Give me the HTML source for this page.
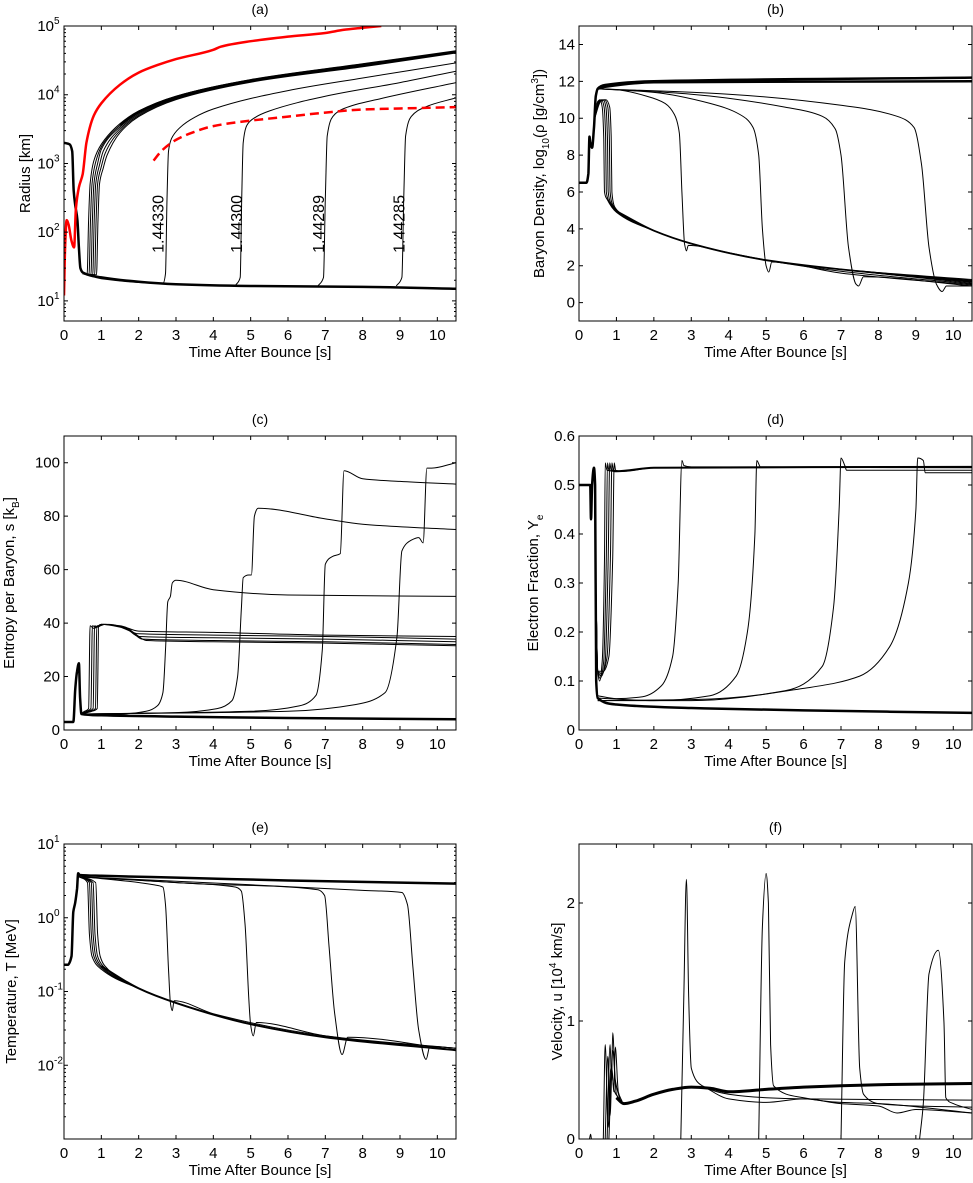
<!DOCTYPE html>
<html><head><meta charset="utf-8">
<style>
html,body{margin:0;padding:0;background:#fff;}
svg{display:block;font-family:"Liberation Sans",Arial,sans-serif;}
</style></head>
<body>
<svg id="fig" width="973" height="1183" viewBox="0 0 973 1183" xmlns="http://www.w3.org/2000/svg"></svg>
<script>
// ---------- DATA (time [s], value) ----------
const tickX = [0,1,2,3,4,5,6,7,8,9,10];
const trajLabels = ["1.44330","1.44300","1.44289","1.44285"];
const labelTimes = [2.75,4.85,7.05,9.2];

// (a) Radius [km]
const aBound = [[0,2000],[0.15,1900],[0.22,1500],[0.26,400],[0.3,250],[0.36,150],[0.4,60],[0.44,30],[0.5,26],[1,22],[2,19],[3,17.5],[5,16.5],[8,16],[10.5,15]];
const aRed = [[0,12],[0.03,60],[0.07,150],[0.12,130],[0.2,75],[0.27,60],[0.32,220],[0.4,450],[0.5,700],[0.6,2000],[0.8,5000],[1,7500],[1.5,14000],[2,21000],[2.5,27000],[3,33000],[4,45000],[4.2,50000],[5,60000],[6,70000],[7,79000],[7.5,88000],[8,94000],[8.5,100000]];
const aRedDash = [[2.4,1100],[2.6,1500],[3,2200],[3.5,2900],[4,3500],[5,4200],[6,4800],[7,5500],[8,6100],[9,6300],[10.5,6600]];
const aC1 = [[0.5,25],[0.62,24],[0.66,150],[0.7,500],[0.8,1100],[1,1900],[1.5,3800],[2,5800],[3,9500],[5,16500],[8,28000],[10.5,43000]];
const aC2 = [[0.5,25],[0.67,24],[0.71,150],[0.75,500],[0.85,1050],[1,1750],[1.5,3600],[2,5600],[3,9300],[5,16200],[8,27500],[10.5,42500]];
const aC3 = [[0.5,25],[0.72,24],[0.76,150],[0.8,500],[0.9,1000],[1,1600],[1.5,3400],[2,5400],[3,9100],[5,16000],[8,27000],[10.5,42000]];
const aC4 = [[0.5,25],[0.77,24],[0.81,150],[0.85,500],[0.95,950],[1.05,1500],[1.5,3200],[2,5200],[3,8900],[5,15800],[8,26500],[10.5,41500]];
const aC5 = [[0.5,25],[0.82,24],[0.86,150],[0.9,500],[1.0,900],[1.1,1400],[1.5,3000],[2,5000],[3,8700],[5,15500],[8,26000],[10.5,41000]];
const aC6 = [[0.5,25],[0.87,24],[0.91,150],[0.95,500],[1.05,850],[1.15,1300],[1.5,2800],[2,4800],[3,8500],[5,15200],[8,25500],[10.5,40500]];
const aL1 = [[0.5,25],[1,21],[2.65,18],[2.72,25],[2.76,300],[2.8,1500],[2.88,2300],[3.1,3300],[3.5,4700],[4,6200],[6,11500],[8,17500],[10.5,29000]];
const aL2 = [[4.6,17],[4.72,22],[4.76,300],[4.8,2000],[4.9,3600],[5.1,4600],[5.5,5800],[7,9500],[9,15000],[10.5,22000]];
const aL3 = [[6.8,16.5],[6.95,22],[7.0,300],[7.05,2500],[7.2,4800],[7.5,6300],[8.5,8800],[10.5,15000]];
const aL4 = [[8.9,16.5],[9.05,22],[9.1,300],[9.15,2500],[9.3,4800],[9.7,6700],[10.5,9000]];

// (b) log10 density
const bBound = [[0,6.5],[0.2,6.5],[0.25,7],[0.28,9],[0.3,8.7],[0.35,8.4],[0.4,9.5],[0.45,11.2],[0.5,11.6],[0.7,11.8],[2,12],[10.5,12.2]];
const bBound2 = [[0.5,11.6],[0.7,11.7],[2,11.95],[10.5,12.0]];
const bC1 = [[0.42,10],[0.5,10.9],[0.56,11],[0.62,10.6],[0.66,9],[0.68,6],[0.75,5.6],[1,4.9],[2,3.9],[3,3.2],[5,2.3],[7,1.8],[10.5,1.25]];
const bC2 = [[0.42,10],[0.52,10.9],[0.6,11],[0.67,10.6],[0.71,9],[0.73,6],[0.8,5.5],[1,4.95],[2,3.9],[3,3.2],[5,2.3],[7,1.8],[10.5,1.2]];
const bC3 = [[0.42,10],[0.54,10.9],[0.64,11],[0.72,10.6],[0.76,9],[0.78,6],[0.85,5.4],[1.05,4.9],[2,3.9],[3,3.2],[5,2.3],[7,1.8],[10.5,1.15]];
const bC4 = [[0.42,10],[0.56,10.9],[0.68,11],[0.77,10.6],[0.81,9],[0.83,6],[0.9,5.3],[1.1,4.85],[2,3.9],[3,3.2],[5,2.3],[7,1.8],[10.5,1.1]];
const bC5 = [[0.42,10],[0.58,10.9],[0.72,11],[0.82,10.6],[0.86,9],[0.88,6],[0.95,5.2],[1.15,4.8],[2,3.9],[3,3.2],[5,2.3],[7,1.8],[10.5,1.05]];
const bL1 = [[0.5,11.6],[1,11.55],[1.8,11.2],[2.3,10.8],[2.55,10.2],[2.68,9.2],[2.75,6],[2.82,3.2],[2.87,2.8],[2.92,3.1],[4,2.7],[5,2.3],[7,1.7],[10.5,1.0]];
const bL2 = [[0.5,11.6],[2,11.4],[3.5,10.8],[4.3,10.2],[4.65,9.5],[4.8,8],[4.9,4],[5.0,2.0],[5.07,1.65],[5.15,2.2],[7,1.6],[10.5,0.95]];
const bL3 = [[0.5,11.6],[3,11.3],[5.5,10.6],[6.5,10.1],[6.85,9.4],[7.0,8],[7.2,3],[7.4,1.0],[7.47,0.9],[7.6,1.4],[10.5,0.9]];
const bL4 = [[0.5,11.6],[4,11.3],[7,10.7],[8.5,10.1],[8.95,9.5],[9.15,7.5],[9.35,3],[9.55,1.0],[9.7,0.6],[9.82,0.9],[10.5,0.9]];

// (c) entropy
const cBound = [[0,3],[0.25,3],[0.3,15],[0.35,22],[0.4,25],[0.43,12],[0.47,6],[1,5.5],[3,5],[6,4.5],[10.5,4]];
const cC1 = [[0.45,6],[0.55,7],[0.66,8],[0.7,39],[0.8,38],[1,39.5],[1.5,39],[2,37],[4,36.5],[7,35.5],[10.5,35]];
const cC2 = [[0.45,6],[0.6,7],[0.72,8],[0.76,39],[0.85,38.5],[1,39.5],[1.5,38.5],[2,36],[4,35.5],[7,35],[10.5,34]];
const cC3 = [[0.45,6],[0.65,7],[0.78,8],[0.82,39],[0.9,38.5],[1.05,39.5],[1.6,38.5],[2,35],[4,34.5],[7,34],[10.5,33]];
const cC4 = [[0.45,6],[0.7,7],[0.84,8],[0.88,39],[0.95,39],[1.1,39.5],[1.7,38],[2.1,34],[4,33.5],[7,33],[10.5,32]];
const cC5 = [[0.45,6],[0.75,7],[0.89,8],[0.93,39],[1.0,39.5],[1.2,39.5],[1.8,37],[2.2,33.5],[4,33],[7,32.5],[10.5,31.5]];
const cL1 = [[0.5,6],[1.5,6],[2.2,7],[2.5,9],[2.65,14],[2.72,30],[2.78,48],[2.85,50],[2.9,55],[3,56],[4,52.5],[6,50.5],[10.5,50]];
const cL2 = [[0.5,6],[3,6.5],[4.1,8],[4.5,11],[4.65,20],[4.75,45],[4.8,57],[4.95,58],[5.02,58],[5.1,80],[5.2,83],[7,79],[8,77],[10.5,75]];
const cL3 = [[0.5,6],[5,7],[6.3,9],[6.75,13],[6.92,30],[7.0,62],[7.2,65],[7.4,66],[7.5,97],[8,94],[9,93],[10.5,92]];
const cL4 = [[0.5,6],[6,7],[7.8,9.5],[8.6,14],[8.92,35],[9.05,67],[9.3,71],[9.5,72],[9.62,70],[9.72,98],[9.85,98],[10.5,100]];

// (d) electron fraction
const dBound = [[0,0.5],[0.3,0.5],[0.32,0.43],[0.35,0.5],[0.4,0.535],[0.43,0.5],[0.46,0.1],[0.5,0.065],[1,0.052],[3,0.045],[6,0.04],[10.5,0.035]];
const dC1 = [[0.45,0.3],[0.5,0.12],[0.55,0.1],[0.62,0.14],[0.68,0.35],[0.7,0.545],[0.75,0.53],[1,0.528],[2,0.535],[10.5,0.537]];
const dC2 = [[0.45,0.3],[0.5,0.12],[0.57,0.105],[0.66,0.14],[0.73,0.35],[0.76,0.545],[0.8,0.53],[1,0.528],[2,0.535],[10.5,0.537]];
const dC3 = [[0.45,0.3],[0.5,0.12],[0.6,0.11],[0.7,0.14],[0.78,0.35],[0.82,0.545],[0.86,0.53],[1,0.528],[2,0.535],[10.5,0.537]];
const dC4 = [[0.45,0.3],[0.5,0.12],[0.62,0.115],[0.75,0.15],[0.84,0.35],[0.88,0.545],[0.92,0.53],[1.1,0.528],[2,0.535],[10.5,0.537]];
const dC5 = [[0.45,0.3],[0.5,0.12],[0.65,0.12],[0.8,0.15],[0.9,0.35],[0.94,0.545],[0.98,0.53],[1.2,0.528],[2,0.535],[10.5,0.537]];
const dL1 = [[0.5,0.07],[1,0.064],[1.7,0.068],[2.2,0.09],[2.5,0.15],[2.65,0.3],[2.75,0.55],[2.8,0.54],[3,0.537],[10.5,0.537]];
const dL2 = [[0.5,0.065],[2,0.06],[3.5,0.07],[4.2,0.11],[4.5,0.2],[4.7,0.4],[4.75,0.55],[4.85,0.537],[10.5,0.535]];
const dL3 = [[0.5,0.06],[3,0.062],[5.5,0.08],[6.5,0.13],[6.8,0.25],[6.95,0.45],[7.0,0.555],[7.1,0.54],[7.15,0.53],[10.5,0.53]];
const dL4 = [[0.5,0.06],[3,0.06],[6,0.085],[7.5,0.11],[8.3,0.17],[8.8,0.3],[9.0,0.45],[9.05,0.555],[9.2,0.55],[9.25,0.525],[10.5,0.525]];

// (e) temperature [MeV]
const eBound = [[0,0.23],[0.1,0.23],[0.2,0.3],[0.25,1.2],[0.3,1.6],[0.35,2.5],[0.38,4.0],[0.42,3.8],[1,3.7],[3,3.5],[6,3.2],[10.5,2.9]];
const eC1 = [[0.4,3.6],[0.63,3.0],[0.68,0.6],[0.75,0.3],[1,0.2],[2,0.11],[3,0.07],[5,0.036],[7,0.024],[10.5,0.016]];
const eC2 = [[0.4,3.6],[0.68,3.0],[0.73,0.6],[0.8,0.3],[1,0.21],[2,0.11],[3,0.07],[5,0.036],[7,0.024],[10.5,0.016]];
const eC3 = [[0.4,3.6],[0.73,3.0],[0.78,0.6],[0.85,0.3],[1,0.22],[2,0.11],[3,0.07],[5,0.036],[7,0.024],[10.5,0.016]];
const eC4 = [[0.4,3.6],[0.78,3.0],[0.83,0.6],[0.9,0.3],[1.05,0.22],[2,0.11],[3,0.07],[5,0.036],[7,0.024],[10.5,0.016]];
const eC5 = [[0.4,3.6],[0.85,3.0],[0.9,0.6],[0.97,0.3],[1.1,0.22],[2,0.11],[3,0.07],[5,0.036],[7,0.024],[10.5,0.017]];
const eL1 = [[0.4,3.6],[1,3.4],[2.4,2.8],[2.65,2.6],[2.72,1.5],[2.8,0.2],[2.85,0.07],[2.9,0.055],[2.95,0.075],[4,0.05],[7,0.025],[10.5,0.017]];
const eL2 = [[0.4,3.6],[3,3.0],[4.6,2.6],[4.75,2.3],[4.85,0.8],[4.95,0.08],[5.0,0.035],[5.07,0.025],[5.15,0.038],[7,0.025],[10.5,0.016]];
const eL3 = [[0.4,3.6],[3.5,2.9],[6.8,2.4],[6.98,2.0],[7.1,0.4],[7.25,0.05],[7.45,0.014],[7.6,0.024],[10.5,0.016]];
const eL4 = [[0.4,3.6],[5,2.8],[8,2.35],[9.05,2.2],[9.2,1.5],[9.35,0.2],[9.5,0.03],[9.7,0.012],[9.8,0.018],[10.5,0.017]];

// (f) velocity [1e4 km/s]
const fBound = [[1.0,0.35],[1.2,0.3],[1.5,0.32],[2,0.38],[2.5,0.42],[3,0.44],[3.5,0.43],[4,0.4],[5,0.42],[6,0.44],[8,0.46],[10.5,0.47]];
const fSpike0 = [[0.28,0],[0.31,0.04],[0.33,0]];
const fC1 = [[0.65,0],[0.7,0.8],[0.78,0.1],[0.85,0.6],[0.95,0.4],[1.05,0.35]];
const fC2 = [[0.7,0],[0.77,0.7],[0.83,0.2],[0.9,0.75],[1.0,0.38],[1.1,0.33]];
const fC3 = [[0.75,0],[0.83,0.8],[0.87,0.5],[0.9,0.9],[0.97,0.5],[1.1,0.33]];
const fC4 = [[0.8,0],[0.88,0.6],[0.93,0.4],[0.97,0.78],[1.05,0.4],[1.15,0.32]];
const fL1 = [[2.72,0],[2.8,1.2],[2.87,2.2],[2.93,1.2],[3.0,0.6],[3.3,0.45],[4,0.38],[5,0.35],[6,0.34],[10.5,0.33]];
const fL2 = [[4.8,0],[4.9,1.8],[5.0,2.25],[5.06,2.0],[5.12,0.8],[5.2,0.45],[6,0.35],[7,0.31],[8,0.3],[10.5,0.22]];
const fL3 = [[7.0,0],[7.1,1.5],[7.3,1.9],[7.38,1.97],[7.5,0.6],[7.6,0.38],[8,0.3],[9,0.28],[10.5,0.27]];
const fL4 = [[9.1,0],[9.2,0.3],[9.35,1.4],[9.6,1.6],[9.75,1.0],[9.8,0.35],[10,0.3],[10.5,0.25]];
const fAux = [[3.3,0.45],[4,0.34],[5,0.31],[6,0.34],[7,0.3],[8,0.28],[8.5,0.22],[9,0.25],[10.5,0.22]];

// ---------- RENDER ----------
const NS = "http://www.w3.org/2000/svg";
const svg = document.getElementById("fig");
function el(tag, parent){ const e = document.createElementNS(NS, tag); parent.appendChild(e); return e; }

// monotone cubic path through pixel points (x increasing)
function monoPath(P){
  const n = P.length;
  if (n < 3) return "M" + P.map(p=>p[0].toFixed(1)+","+p[1].toFixed(1)).join("L");
  const dx=[], dy=[], m=[];
  for(let i=0;i<n-1;i++){ dx[i]=P[i+1][0]-P[i][0]; dy[i]=P[i+1][1]-P[i][1]; m[i]=dx[i]>0?dy[i]/dx[i]:0; }
  const tg=[m[0]];
  for(let i=1;i<n-1;i++){ tg[i] = (m[i-1]*m[i]<=0)?0:(3*(dx[i-1]+dx[i]))/((2*dx[i]+dx[i-1])/m[i-1]+(dx[i]+2*dx[i-1])/m[i]); }
  tg[n-1]=m[n-2];
  let d = "M"+P[0][0].toFixed(1)+","+P[0][1].toFixed(1);
  for(let i=0;i<n-1;i++){
    const h=dx[i]/3;
    d += "C"+(P[i][0]+h).toFixed(1)+","+(P[i][1]+tg[i]*h).toFixed(1)+" "+(P[i+1][0]-h).toFixed(1)+","+(P[i+1][1]-tg[i+1]*h).toFixed(1)+" "+P[i+1][0].toFixed(1)+","+P[i+1][1].toFixed(1);
  }
  return d;
}

function panel(cfg){
  const g = el("g", svg);
  
  
  const X0=cfg.x0, X1=cfg.x1, Y0=cfg.y0, Y1=cfg.y1;
  const sx = t => X0 + t*(X1-X0)/10.5;
  const tr = v => cfg.log ? Math.log10(v) : v;
  const sy = v => Y1 - (tr(v)-tr(cfg.ymin))*(Y1-Y0)/(tr(cfg.ymax)-tr(cfg.ymin));
  const cp = el("clipPath", g); cp.setAttribute("id","clip-"+cfg.id);
  const cr = el("rect", cp); cr.setAttribute("x",X0); cr.setAttribute("y",Y0); cr.setAttribute("width",X1-X0); cr.setAttribute("height",Y1-Y0);
  const plot = el("g", g); plot.setAttribute("clip-path","url(#clip-"+cfg.id+")");
  
  
  cfg.series.forEach(s=>{
    const p = el("path", plot);
    p.setAttribute("d", monoPath(s.d.map(q=>[sx(q[0]), sy(q[1])])));
    p.setAttribute("fill","none");
    p.setAttribute("stroke", s.c || "#000");
    p.setAttribute("stroke-width", s.w || 1);
    p.setAttribute("stroke-linejoin","round");
    if (s.dash) p.setAttribute("stroke-dasharray", s.dash);
    
    
  });
  const fr = el("rect", g); fr.setAttribute("x",X0); fr.setAttribute("y",Y0); fr.setAttribute("width",X1-X0); fr.setAttribute("height",Y1-Y0);
  fr.setAttribute("fill","none"); fr.setAttribute("stroke","#000"); fr.setAttribute("stroke-width","1");
  
  
  let path = "";
  tickX.forEach(t=>{
    const x = sx(t);
    path += `M${x},${Y1}v-4M${x},${Y0}v4`;
    const tx = el("text", g); tx.textContent = t; tx.setAttribute("x",x); tx.setAttribute("y",Y1+19);
    tx.setAttribute("text-anchor","middle"); tx.setAttribute("font-size","15");
    
    
  });
  cfg.yticks.forEach(v=>{ const y = sy(v); path += `M${X0},${y}h4M${X1},${y}h-4`; });
  if (cfg.log){
    for(let e=Math.round(Math.log10(cfg.ymin))-1;e<=Math.log10(cfg.ymax);e++){
      for(let m=2;m<10;m++){ const v=m*Math.pow(10,e); if(v>cfg.ymin&&v<cfg.ymax){ const y=sy(v); path+=`M${X0},${y}h2M${X1},${y}h-2`; } }
    }
  }
  const tp = el("path", g); tp.setAttribute("d",path); tp.setAttribute("stroke","#000"); tp.setAttribute("stroke-width","1"); tp.setAttribute("fill","none");
  
  
  cfg.yticks.forEach((v,i)=>{
    const y = sy(v);
    const tx = el("text", g); tx.setAttribute("y",y+5);
    tx.setAttribute("text-anchor","end"); tx.setAttribute("font-size","15");
    if (cfg.log){
      tx.textContent = "10"; tx.setAttribute("x", X0-10);
      const ex = el("text", g); ex.textContent = cfg.ytickExp[i]; ex.setAttribute("x",X0-10); ex.setAttribute("y",y-2); ex.setAttribute("font-size","10");
      
      
    } else {
      tx.textContent = cfg.ytickLabels[i]; tx.setAttribute("x", X0-4);
    }
    
    
  });
  const tt = el("text", g); tt.textContent = "("+cfg.id+")"; tt.setAttribute("x",(X0+X1)/2); tt.setAttribute("y",Y0-12);
  tt.setAttribute("text-anchor","middle"); tt.setAttribute("font-size","14");
  
  
  const xl = el("text", g); xl.textContent = "Time After Bounce [s]"; xl.setAttribute("x",(X0+X1)/2); xl.setAttribute("y",Y1+36);
  xl.setAttribute("text-anchor","middle"); xl.setAttribute("font-size","15");
  
  
  const yl = el("text", g); yl.setAttribute("transform",`translate(${cfg.ylx},${(Y0+Y1)/2}) rotate(-90)`);
  yl.setAttribute("text-anchor","middle"); yl.setAttribute("font-size","15");
  yl.innerHTML = cfg.ylabel;
  
  
  if (cfg.labels){
    trajLabels.forEach((s,i)=>{
      const t = el("text", g); t.textContent = s;
      t.setAttribute("transform",`translate(${sx(labelTimes[i])-3},${sy(50)}) rotate(-90)`);
      t.setAttribute("font-size","16");
      
      
    });
  }
}

const L = {x0:64,x1:456}, R = {x0:579,x1:972};
const thin = (d,n)=>({d:d,w:1,n:n});
const thick = (d,n)=>({d:d,w:2.5,n:n});

panel({id:"a",...L,y0:26,y1:321,log:true,ymin:5.1,ymax:1e5,yticks:[10,100,1000,1e4,1e5],ytickExp:["1","2","3","4","5"],
  ylx:30,ylabel:"Radius [km]",labels:true,
  series:[thin(aL1,'traj-1.44330'),thin(aL2,'traj-1.44300'),thin(aL3,'traj-1.44289'),thin(aL4,'traj-1.44285'),
    thin(aC1,'early-traj-1'),thin(aC2,'early-traj-2'),thin(aC3,'early-traj-3'),thin(aC4,'early-traj-4'),thin(aC5,'early-traj-5'),thin(aC6,'early-traj-6'),
    {d:aC2.slice(6),w:2.5,n:'early-traj-band'},thick(aBound,'bound-traj'),
    {d:aRed,w:2.5,c:"#ff0000",n:'shock-radius'},{d:aRedDash,w:2.5,c:"#ff0000",dash:"9,5",n:'shock-radius-dashed'}]});

panel({id:"b",...R,y0:26,y1:321,log:false,ymin:-1,ymax:15,yticks:[0,2,4,6,8,10,12,14],ytickLabels:["0","2","4","6","8","10","12","14"],
  ylx:544,ylabel:'Baryon Density, log<tspan dy="5" font-size="10">10</tspan><tspan dy="-5">(ρ [g/cm</tspan><tspan dy="-6" font-size="10">3</tspan><tspan dy="6">])</tspan>',
  series:[thin(bC1,'early-traj-1'),thin(bC2,'early-traj-2'),thin(bC3,'early-traj-3'),thin(bC4,'early-traj-4'),thin(bC5,'early-traj-5'),
    thin(bL1,'traj-1.44330'),thin(bL2,'traj-1.44300'),thin(bL3,'traj-1.44289'),thin(bL4,'traj-1.44285'),
    {d:bC3.slice(7),w:1.8,n:'early-traj-band'},thick(bBound,'bound-traj'),thick(bBound2,'bound-traj-2')]});

panel({id:"c",...L,y0:436,y1:730,log:false,ymin:0,ymax:110,yticks:[0,20,40,60,80,100],ytickLabels:["0","20","40","60","80","100"],
  ylx:14,ylabel:'Entropy per Baryon, s [k<tspan dy="5" font-size="10">B</tspan><tspan dy="-5">]</tspan>',
  series:[thin(cC1,'early-traj-1'),thin(cC2,'early-traj-2'),thin(cC3,'early-traj-3'),thin(cC4,'early-traj-4'),thin(cC5,'early-traj-5'),
    thin(cL1,'traj-1.44330'),thin(cL2,'traj-1.44300'),thin(cL3,'traj-1.44289'),thin(cL4,'traj-1.44285'),thick(cBound,'bound-traj')]});

panel({id:"d",...R,y0:436,y1:730,log:false,ymin:0,ymax:0.6,yticks:[0,0.1,0.2,0.3,0.4,0.5,0.6],ytickLabels:["0","0.1","0.2","0.3","0.4","0.5","0.6"],
  ylx:538,ylabel:'Electron Fraction, Y<tspan dy="5" font-size="10">e</tspan>',
  series:[thin(dC1,'early-traj-1'),thin(dC2,'early-traj-2'),thin(dC3,'early-traj-3'),thin(dC4,'early-traj-4'),thin(dC5,'early-traj-5'),
    thin(dL1,'traj-1.44330'),thin(dL2,'traj-1.44300'),thin(dL3,'traj-1.44289'),thin(dL4,'traj-1.44285'),
    {d:dC3.slice(6),w:2,n:'early-traj-band'},thick(dBound,'bound-traj')]});

panel({id:"e",...L,y0:844,y1:1139,log:true,ymin:1e-3,ymax:10,yticks:[0.01,0.1,1,10],ytickExp:["-2","-1","0","1"],
  ylx:16,ylabel:'Temperature, T [MeV]',
  series:[thin(eC1,'early-traj-1'),thin(eC2,'early-traj-2'),thin(eC3,'early-traj-3'),thin(eC4,'early-traj-4'),thin(eC5,'early-traj-5'),
    thin(eL1,'traj-1.44330'),thin(eL2,'traj-1.44300'),thin(eL3,'traj-1.44289'),thin(eL4,'traj-1.44285'),
    {d:eC3.slice(4),w:2,n:'early-traj-band'},thick(eBound,'bound-traj')]});

panel({id:"f",...R,y0:844,y1:1139,log:false,ymin:0,ymax:2.5,yticks:[0,1,2],ytickLabels:["0","1","2"],
  ylx:562,ylabel:'Velocity, u [10<tspan dy="-6" font-size="10">4</tspan><tspan dy="6"> km/s]</tspan>',
  series:[thin(fSpike0,'bounce-spike'),thin(fC1,'early-traj-1'),thin(fC2,'early-traj-2'),thin(fC3,'early-traj-3'),thin(fC4,'early-traj-4'),
    thin(fL1,'traj-1.44330'),thin(fL2,'traj-1.44300'),thin(fL3,'traj-1.44289'),thin(fL4,'traj-1.44285'),thin(fAux,'aux-traj'),
    {d:fBound,w:3,n:'bound-traj'}]});
</script>
</body></html>
